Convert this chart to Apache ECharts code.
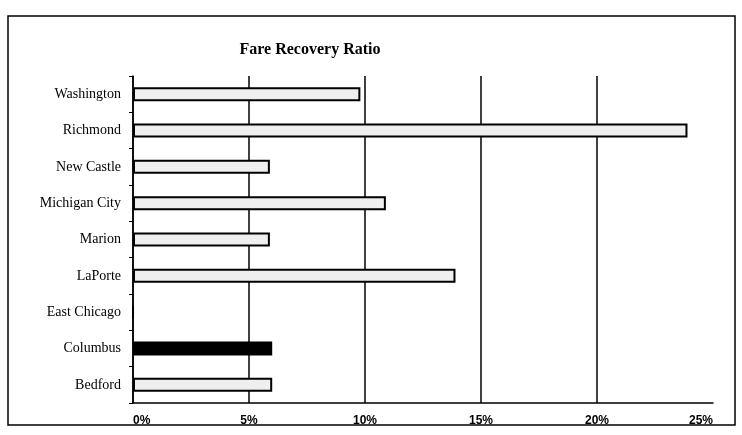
<!DOCTYPE html>
<html>
<head>
<meta charset="utf-8">
<script src="https://cdn.jsdelivr.net/npm/echarts@6/dist/echarts.min.js"></script>
<style>
  html, body { margin: 0; padding: 0; background: #fff; }
  #chart { width: 742px; height: 435px; }
</style>
</head>
<body>
<div id="chart"></div>
<script>
// categories listed bottom to top (category axis on y)
const cities = ['Bedford', 'Columbus', 'East Chicago', 'LaPorte', 'Marion', 'Michigan City', 'New Castle', 'Richmond', 'Washington'];
// fare recovery ratio, percent
const ratios = [6.0, 6.0, 0, 13.9, 5.9, 10.9, 5.9, 23.9, 9.8];
const highlightCity = 'Columbus';
const xTicks = [0, 5, 10, 15, 20, 25];

const chart = echarts.init(document.getElementById('chart'));

const barData = ratios.map((v, i) => {
  const dark = cities[i] === highlightCity;
  return {
    value: v,
    itemStyle: dark ? { color: '#000', borderColor: '#000' } : {}
  };
});

const option = {
  backgroundColor: '#fff',
  animation: false,
  title: {
    text: 'Fare Recovery Ratio',
    left: 305,
    textAlign: 'center',
    top: 37,
    textStyle: { fontFamily: 'Liberation Serif', fontWeight: 'bold', fontSize: 16, color: '#000' }
  },
  graphic: [{
    type: 'rect',
    shape: { x: 8, y: 16, width: 727, height: 409 },
    style: { fill: 'none', stroke: '#000', lineWidth: 1.5 },
    silent: true
  }],
  grid: { left: 133, right: 29, top: 76, bottom: 32 },
  xAxis: {
    type: 'value',
    min: xTicks[0],
    max: xTicks[xTicks.length - 1],
    interval: 5,
    axisLine: { show: true, lineStyle: { color: '#000', width: 1.5 } },
    axisTick: { show: false },
    axisLabel: {
      formatter: '{value}%',
      margin: 12,
      alignMinLabel: 'left',
      alignMaxLabel: 'right',
      fontFamily: 'Liberation Sans',
      fontWeight: 'bold',
      fontSize: 12,
      color: '#000'
    },
    splitLine: {
      show: true,
      lineStyle: { color: ['#000', '#000', '#000', '#000', '#000', 'rgba(0,0,0,0)'], width: 1.5 }
    }
  },
  yAxis: {
    type: 'category',
    data: cities,
    axisLine: { show: true, lineStyle: { color: '#000', width: 1.5 } },
    axisTick: { show: true, length: 4, lineStyle: { color: '#000' } },
    axisLabel: {
      margin: 12,
      fontFamily: 'Liberation Serif',
      fontSize: 14,
      color: '#000'
    }
  },
  series: [{
    type: 'bar',
    data: barData,
    barWidth: 14,
    itemStyle: {
      color: '#efefef',
      borderColor: '#000',
      borderWidth: 2
    }
  }]
};

chart.setOption(option);
</script>
</body>
</html>
